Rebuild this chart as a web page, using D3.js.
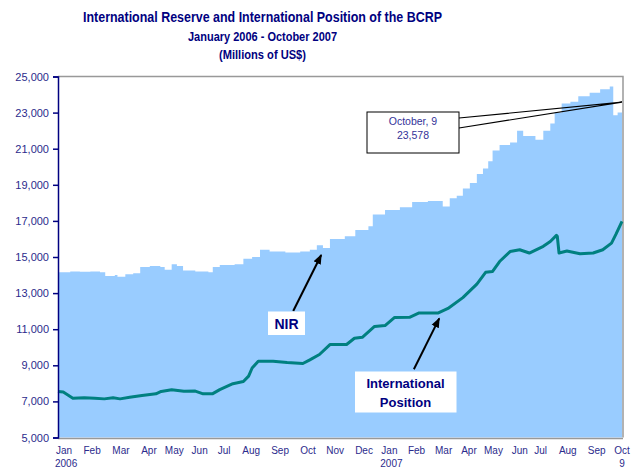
<!DOCTYPE html>
<html>
<head>
<meta charset="utf-8">
<script src="https://cdn.jsdelivr.net/npm/d3@7"></script>
<style>
  body { margin: 0; background: #fff; }
  svg { display: block; font-family: "Liberation Sans", Arial, sans-serif; }
</style>
</head>
<body>
<svg id="chart" width="637" height="468"></svg>
<script>
// Net International Reserves (millions of US$)
const nirDates = ['2006-01-02','2006-01-16','2006-01-27','2006-02-08','2006-02-19','2006-02-25','2006-03-08','2006-03-11',
  '2006-03-20','2006-03-29','2006-04-06','2006-04-17','2006-04-29','2006-05-04','2006-05-12','2006-05-18','2006-05-25',
  '2006-06-08','2006-06-23','2006-06-28','2006-07-06','2006-07-23','2006-08-02','2006-08-12','2006-08-21','2006-09-01',
  '2006-09-19','2006-10-06','2006-10-17','2006-10-25','2006-11-01','2006-11-09','2006-11-26','2006-12-08','2006-12-23',
  '2006-12-28','2007-01-11','2007-01-28','2007-02-11','2007-03-01','2007-03-18','2007-03-26','2007-04-03','2007-04-10',
  '2007-04-18','2007-04-26','2007-05-03','2007-05-09','2007-05-14','2007-05-22','2007-06-03','2007-06-11','2007-06-18',
  '2007-07-02','2007-07-11','2007-07-19','2007-07-24','2007-08-01','2007-08-11','2007-08-20','2007-09-02','2007-09-14',
  '2007-09-25','2007-09-29','2007-10-04','2007-10-09']
const nirValues = [14150,14200,14180,14200,14150,13950,14000,13900,
  14050,14100,14450,14500,14450,14300,14600,14500,14250,
  14200,14150,14450,14550,14600,14900,15000,15400,15300,
  15250,15300,15400,15650,15500,16000,16150,16500,16700,
  17350,17600,17750,18050,18100,17800,18250,18400,18800,
  19100,19600,19900,20300,20900,21200,21350,22000,21700,
  21500,22000,22400,23000,23500,23600,23900,24100,24300,
  24450,22850,23000,23578]

// International Position (millions of US$)
const ipDates = ['2006-01-02','2006-01-08','2006-01-19','2006-02-01','2006-02-13','2006-02-24','2006-03-06','2006-03-14',
  '2006-03-25','2006-04-08','2006-04-24','2006-04-30','2006-05-12','2006-05-26','2006-06-08','2006-06-17','2006-06-28',
  '2006-07-06','2006-07-21','2006-08-02','2006-08-08','2006-08-12','2006-08-19','2006-09-05','2006-09-21','2006-10-09',
  '2006-10-17','2006-10-28','2006-11-09','2006-11-28','2006-12-07','2006-12-16','2006-12-30','2007-01-11','2007-01-22',
  '2007-02-08','2007-02-19','2007-03-13','2007-03-24','2007-04-10','2007-04-26','2007-05-06','2007-05-14','2007-05-22',
  '2007-06-03','2007-06-14','2007-06-25','2007-07-11','2007-07-19','2007-07-26','2007-07-27','2007-07-29','2007-08-07',
  '2007-08-22','2007-09-06','2007-09-17','2007-09-27','2007-10-02','2007-10-09']
const ipValues = [7550,7520,7180,7200,7180,7140,7200,7140,
  7230,7330,7420,7550,7650,7560,7570,7420,7430,
  7650,7980,8100,8400,8850,9220,9220,9150,9100,
  9300,9600,10150,10150,10500,10550,11150,11200,11650,
  11660,11900,11900,12150,12750,13500,14150,14200,14750,
  15300,15400,15220,15590,15860,16200,16150,15220,15330,
  15180,15220,15400,15770,16250,16970]

const yTicks = [5000,7000,9000,11000,13000,15000,17000,19000,21000,23000,25000]
const monthTickDates = ['2006-01-09','2006-02-10','2006-03-15','2006-04-16','2006-05-15','2006-06-13','2006-07-11',
  '2006-08-11','2006-09-13','2006-10-15','2006-11-15','2006-12-18','2007-01-16','2007-02-16','2007-03-19',
  '2007-04-17','2007-05-15','2007-06-14','2007-07-08','2007-08-08','2007-09-10','2007-10-09']
const monthTickLabels = ['Jan','Feb','Mar','Apr','May','Jun','Jul','Aug','Sep','Oct','Nov','Dec',
  'Jan','Feb','Mar','Apr','May','Jun','Jul','Aug','Sep','Oct']
const monthTickSub = ['2006','','','','','','','','','','','','2007','','','','','','','','','9']

const titles = ['International Reserve and International Position of the BCRP',
  'January 2006 - October 2007', '(Millions of US$)']

const parse = d3.timeParse('%Y-%m-%d')
const nir = nirDates.map((d,i)=> ({date: parse(d), value: nirValues[i]}))
const ip = ipDates.map((d,i)=> ({date: parse(d), value: ipValues[i]}))

const margin = {left: 58, right: 15, top: 76.5, bottom: 30.5}
const W = 637, H = 468
const navy = '#000080', tickBlue = '#2B2B8C'

const svg = d3.select('#chart')

const x = d3.scaleTime()
  .domain([parse('2006-01-02'), parse('2007-10-09')])
  .range([margin.left, W - margin.right])
const y = d3.scaleLinear()
  .domain([5000, 25000])
  .range([H - margin.bottom, margin.top])

// titles
const titleY = [22, 40.5, 59]
const titleLen = [359, 149, 87]
const titleSize = [14.5, 12.5, 12.5]
titles.forEach((t,i)=>{
  svg.append('text')
    .attr('x', 262.5).attr('y', titleY[i])
    .attr('text-anchor','middle')
    .attr('textLength', titleLen[i]).attr('lengthAdjust','spacingAndGlyphs')
    .style('font-weight','bold').style('font-size', titleSize[i]+'px')
    .attr('fill', navy)
    .text(t)
})

// NIR area
svg.append('path')
  .datum(nir)
  .attr('fill','#99CCFF')
  .attr('d', d3.area().curve(d3.curveStepAfter)
    .x(d=>x(d.date)).y0(y(5000)).y1(d=>y(d.value)))

// plot border (top & right), gray
svg.append('path')
  .attr('d', `M${x.range()[0]},${y(25000)}H${x.range()[1]+1}V${y(5000)}`)
  .attr('fill','none').attr('stroke','#999').attr('stroke-width',1.5)
svg.append('line')
  .attr('x1', x.range()[0]).attr('x2', x.range()[1]+1)
  .attr('y1', y(5000)+1).attr('y2', y(5000)+1)
  .attr('stroke','#999').attr('stroke-width',1.5)

// international position line
svg.append('path')
  .datum(ip)
  .attr('fill','none')
  .attr('stroke','#008080')
  .attr('stroke-width',3)
  .attr('stroke-linejoin','round')
  .attr('d', d3.line().x(d=>x(d.date)).y(d=>y(d.value)))

// y axis
const yAxis = svg.append('g')
  .attr('transform', `translate(${margin.left},0)`)
  .call(d3.axisLeft(y).tickValues(yTicks).tickSize(5).tickPadding(4).tickFormat(d3.format(',')))
yAxis.select('.domain').attr('stroke', navy).attr('stroke-width',1.5)
yAxis.selectAll('.tick line').attr('stroke', navy).attr('stroke-width',1.5)
yAxis.selectAll('.tick text').attr('fill', tickBlue)
  .style('font-size','11px').style('font-family','"Liberation Sans", Arial, sans-serif')

// x labels
const xl = svg.append('g')
monthTickDates.forEach((d,i)=>{
  const px = x(parse(d))
  xl.append('text').attr('x',px).attr('y',454).attr('text-anchor','middle')
    .style('font-size','10px').attr('fill',tickBlue).text(monthTickLabels[i])
  if (monthTickSub[i]) {
    xl.append('text').attr('x',px+(monthTickSub[i].length>1?2:0)).attr('y',466.5).attr('text-anchor','middle')
      .style('font-size','10px').attr('fill',tickBlue).text(monthTickSub[i])
  }
})

// arrow marker
svg.append('defs').append('marker')
  .attr('id','arr').attr('viewBox','0 0 10 10').attr('refX',9).attr('refY',5)
  .attr('markerWidth',5).attr('markerHeight',5).attr('orient','auto')
  .append('path').attr('d','M0,1L10,5L0,9Z').attr('fill','#000')

// callout for last NIR value
const last = nir[nir.length-1]
svg.append('path')
  .attr('d', `M459,118L${x(last.date)},${y(last.value)}L459,128`)
  .attr('fill','none').attr('stroke','#000').attr('stroke-width',1.2)
svg.append('rect').attr('x',367).attr('y',112).attr('width',92).attr('height',41)
  .attr('fill','#fff').attr('stroke','#000').attr('stroke-width',1)
svg.append('text').attr('x',413).attr('y',125).attr('text-anchor','middle')
  .style('font-size','10.5px').attr('fill','#333399').text('October, 9')
svg.append('text').attr('x',413).attr('y',139).attr('text-anchor','middle')
  .style('font-size','10.5px').attr('fill','#333399').text(d3.format(',')(last.value))

// NIR label & arrow
svg.append('line')
  .attr('x1', x(parse('2006-09-28'))).attr('y1', y(12010))
  .attr('x2', x(parse('2006-10-30'))).attr('y2', y(15110))
  .attr('stroke','#000').attr('stroke-width',2).attr('marker-end','url(#arr)')
svg.append('rect').attr('x',268).attr('y',311.5).attr('width',37).attr('height',23.5).attr('fill','#fff')
svg.append('text').attr('x',286.5).attr('y',328.5).attr('text-anchor','middle')
  .style('font-size','14px').style('font-weight','bold').attr('fill',navy).text('NIR')

// International Position label & arrow
svg.append('line')
  .attr('x1', x(parse('2007-02-13'))).attr('y1', y(8780))
  .attr('x2', x(parse('2007-03-14'))).attr('y2', y(11600))
  .attr('stroke','#000').attr('stroke-width',2).attr('marker-end','url(#arr)')
svg.append('rect').attr('x',355).attr('y',371.5).attr('width',101.5).attr('height',41).attr('fill','#fff')
svg.append('text').attr('x',405.5).attr('y',388).attr('text-anchor','middle')
  .style('font-size','13px').style('font-weight','bold').attr('fill',navy).text('International')
svg.append('text').attr('x',405.5).attr('y',406.5).attr('text-anchor','middle')
  .style('font-size','13px').style('font-weight','bold').attr('fill',navy).text('Position')
</script>
</body>
</html>
